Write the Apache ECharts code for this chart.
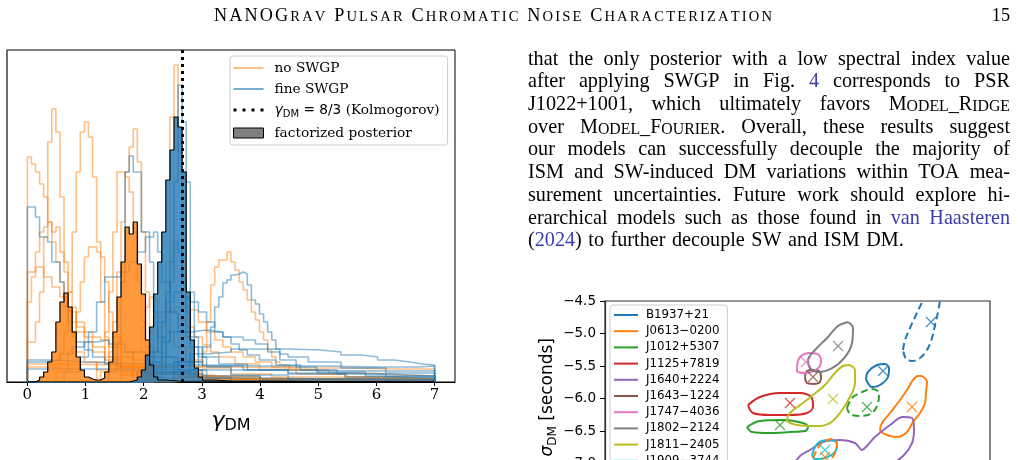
<!DOCTYPE html>
<html><head><meta charset="utf-8">
<script src="https://cdn.jsdelivr.net/npm/echarts@6/dist/echarts.min.js"></script>
<style>html,body{margin:0;padding:0;background:#fff}#c{width:1018px;height:460px}</style>
</head><body><div id="c"></div>
<script>
// ================= DATA =================
// Left panel: posterior histograms of gamma_DM (step outlines: [left bin edge, height])
const gammaTicks = [0, 1, 2, 3, 4, 5, 6, 7];
const KOLMOGOROV = 8 / 3;

// "no SWGP" posteriors (orange)
const noSWGP_1 = [[2.17,0.05],[2.24,0.15],[2.31,0.45],[2.38,1.2],[2.45,2.65],[2.52,3.17],[2.59,2.3],[2.66,1.05],[2.73,0.45],[2.80,0.18],[2.87,0.07],[2.94,0.03],[3.15,0.01]];
const noSWGP_2 = [[0,0.4],[0.14,0.6],[0.21,0.9],[0.28,1.45],[0.35,2.4],[0.42,2.73],[0.49,2.5],[0.56,1.85],[0.63,1.2],[0.70,0.72],[0.77,0.45],[0.84,0.3],[0.98,0.2],[1.19,0.12],[1.6,0.07],[2.2,0.04],[3.0,0.02],[4.0,0.01]];
const noSWGP_3 = [[0,0.15],[0.56,0.3],[0.63,0.5],[0.70,0.9],[0.77,1.5],[0.84,2.1],[0.91,2.5],[0.98,2.6],[1.05,2.45],[1.12,2.05],[1.19,1.4],[1.26,0.8],[1.33,0.45],[1.40,0.25],[1.54,0.15],[1.82,0.08],[2.5,0.04],[3.5,0.02]];
const noSWGP_4 = [[0,2.25],[0.07,2.18],[0.14,2.1],[0.21,1.98],[0.28,1.85],[0.35,1.6],[0.42,1.4],[0.49,1.2],[0.56,1.0],[0.63,0.85],[0.70,0.72],[0.77,0.6],[0.84,0.5],[0.98,0.4],[1.12,0.3],[1.33,0.22],[1.61,0.15],[2.03,0.1],[2.59,0.06],[3.5,0.03],[4.48,0.01]];
const noSWGP_5 = [[0,0.8],[0.07,1.05],[0.14,1.3],[0.21,1.5],[0.28,1.55],[0.35,1.6],[0.42,1.5],[0.49,1.55],[0.56,1.3],[0.63,1.1],[0.70,0.9],[0.77,0.75],[0.84,0.55],[0.98,0.45],[1.12,0.35],[1.33,0.25],[1.61,0.15],[2.03,0.1],[2.8,0.05],[4.0,0.02]];
const noSWGP_6 = [[0,1.1],[0.14,1.15],[0.28,1.05],[0.42,0.95],[0.56,0.85],[0.70,0.7],[0.84,0.6],[0.98,0.5],[1.12,0.45],[1.26,0.42],[1.40,0.35],[1.61,0.3],[1.82,0.22],[2.1,0.15],[2.52,0.1],[3.01,0.06],[4.0,0.03]];
const noSWGP_7 = [[1.26,0.1],[1.40,0.3],[1.47,0.6],[1.54,1.1],[1.61,1.6],[1.68,2.1],[1.75,2.35],[1.82,2.53],[1.89,2.2],[1.96,1.5],[2.03,0.9],[2.10,0.5],[2.17,0.3],[2.31,0.15],[2.59,0.07],[3.22,0.03]];
const noSWGP_8 = [[1.19,0.2],[1.33,0.5],[1.40,0.9],[1.47,1.5],[1.54,2.1],[1.61,2.1],[1.68,2.05],[1.75,1.9],[1.82,1.5],[1.89,1.0],[1.96,0.6],[2.03,0.35],[2.17,0.2],[2.38,0.1],[2.8,0.05],[3.5,0.02]];
const noSWGP_9 = [[0.49,0.1],[0.70,0.3],[0.84,0.7],[0.91,1.0],[0.98,1.25],[1.05,1.35],[1.12,1.35],[1.19,1.3],[1.26,1.25],[1.33,1.0],[1.40,0.7],[1.47,0.45],[1.61,0.25],[1.82,0.15],[2.24,0.08],[3.01,0.03]];
const noSWGP_10 = [[2.59,0.05],[2.87,0.15],[3.01,0.3],[3.08,0.6],[3.15,0.97],[3.22,1.15],[3.29,1.22],[3.36,1.22],[3.43,1.3],[3.50,1.2],[3.57,1.12],[3.64,1.0],[3.71,0.92],[3.78,0.82],[3.85,0.7],[3.92,0.62],[3.99,0.5],[4.06,0.42],[4.13,0.32],[4.20,0.25],[4.27,0.2],[4.34,0.17],[4.5,0.12],[5.0,0.08],[5.5,0.05],[6.2,0.03]];
const noSWGP_11 = [[1.82,0.1],[2.03,0.3],[2.10,0.5],[2.17,0.65],[2.31,0.7],[2.45,0.68],[2.59,0.62],[2.73,0.55],[2.87,0.45],[3.01,0.37],[3.15,0.3],[3.29,0.25],[3.57,0.18],[3.99,0.12],[4.62,0.08],[5.46,0.05],[6.3,0.03]];
const noSWGP_12 = [[0,0.18],[0.7,0.17],[1.47,0.16],[2.52,0.15],[3.5,0.14],[4.48,0.14],[5.46,0.13],[6.3,0.13]];
const noSWGP_13 = [[1.89,0.1],[2.1,0.3],[2.24,0.55],[2.38,0.7],[2.52,0.75],[2.66,0.75],[2.8,0.72],[2.94,0.6],[3.08,0.5],[3.22,0.42],[3.36,0.35],[3.5,0.3],[3.71,0.25],[3.92,0.2],[4.2,0.15],[4.62,0.12],[5.18,0.09],[5.95,0.07],[6.58,0.06]];
const noSWGP_14 = [[1.61,0.1],[1.82,0.3],[1.96,0.55],[2.03,0.75],[2.10,0.85],[2.17,0.82],[2.24,0.7],[2.38,0.5],[2.52,0.35],[2.73,0.22],[3.01,0.14],[3.5,0.08],[4.2,0.05],[5.2,0.03]];

// "fine SWGP" posteriors (blue)
const fineSWGP_1 = [[2.17,0.05],[2.31,0.15],[2.38,0.4],[2.45,1.0],[2.52,2.0],[2.59,2.97],[2.66,2.6],[2.73,2.0],[2.80,0.9],[2.87,0.35],[2.94,0.12],[3.08,0.04],[3.5,0.01]];
const fineSWGP_2 = [[1.40,0.1],[1.54,0.4],[1.61,1.0],[1.68,2.1],[1.75,2.26],[1.82,2.1],[1.89,2.1],[1.96,1.5],[2.03,1.5],[2.10,1.2],[2.17,0.7],[2.24,0.45],[2.38,0.25],[2.59,0.12],[3.01,0.06],[4.0,0.02]];
const fineSWGP_3 = [[0,1.75],[0.14,1.65],[0.21,1.45],[0.35,1.4],[0.42,1.2],[0.56,1.0],[0.63,0.75],[0.70,0.6],[0.77,0.5],[0.84,0.4],[0.98,0.32],[1.12,0.25],[1.33,0.18],[1.61,0.12],[2.03,0.08],[3.01,0.04],[4.0,0.02]];
const fineSWGP_4 = [[0.63,0.1],[0.91,0.25],[1.05,0.5],[1.19,0.8],[1.33,1.05],[1.54,1.05],[1.61,1.1],[1.75,1.2],[1.89,1.3],[2.03,1.45],[2.17,1.5],[2.24,1.3],[2.31,1.0],[2.45,0.7],[2.59,0.5],[2.8,0.35],[3.01,0.25],[3.29,0.18],[3.78,0.12],[4.48,0.08],[5.46,0.05],[6.51,0.04]];
const fineSWGP_5 = [[2.52,0.1],[2.8,0.2],[3.01,0.35],[3.15,0.55],[3.22,0.75],[3.29,0.85],[3.36,0.99],[3.43,1.02],[3.50,1.07],[3.57,1.08],[3.64,1.1],[3.71,1.08],[3.78,0.97],[3.85,0.82],[3.92,0.78],[3.99,0.68],[4.06,0.6],[4.13,0.5],[4.20,0.42],[4.27,0.33],[4.34,0.28],[4.48,0.25],[4.83,0.2],[5.39,0.14],[6.16,0.09]];
const fineSWGP_6 = [[2.17,0.1],[2.52,0.2],[2.8,0.28],[3.08,0.3],[3.5,0.33],[3.99,0.33],[4.48,0.32],[5.04,0.3],[5.39,0.27],[5.74,0.25],[6.02,0.22],[6.3,0.2],[6.58,0.18],[6.79,0.17]];
const fineSWGP_7 = [[0,0.22],[0.49,0.2],[0.98,0.18],[2.03,0.17],[3.01,0.16],[3.99,0.16],[5.04,0.15],[6.02,0.15],[6.72,0.16]];
const fineSWGP_8 = [[0,0.13],[0.98,0.13],[2.03,0.12],[3.01,0.12],[4.48,0.11],[6.02,0.11]];
const fineSWGP_9 = [[1.89,0.1],[2.1,0.3],[2.24,0.6],[2.38,0.8],[2.52,0.9],[2.66,0.85],[2.8,0.8],[2.94,0.7],[3.08,0.6],[3.22,0.5],[3.36,0.45],[3.5,0.38],[3.64,0.32],[3.78,0.27],[3.99,0.22],[4.27,0.17],[4.69,0.12],[5.32,0.08],[6.16,0.05]];
const fineSWGP_10 = [[2.1,0.2],[2.31,0.4],[2.45,0.5],[2.8,0.52],[3.08,0.5],[3.36,0.45],[3.71,0.42],[3.92,0.38],[4.13,0.3],[4.34,0.22],[4.62,0.15],[4.97,0.1],[5.81,0.06]];
const fineSWGP_11 = [[1.96,0.1],[2.17,0.3],[2.31,0.6],[2.38,0.9],[2.45,1.2],[2.52,1.4],[2.59,1.3],[2.66,1.0],[2.73,0.7],[2.8,0.45],[2.94,0.25],[3.08,0.15],[3.5,0.07],[4.48,0.03]];
const fineSWGP_12 = [[0,0.2],[0.28,0.22],[0.56,0.28],[0.77,0.35],[0.98,0.4],[1.19,0.42],[1.40,0.38],[1.68,0.3],[2.03,0.25],[2.52,0.2],[3.01,0.16],[3.71,0.12],[4.48,0.09],[5.46,0.07],[6.51,0.06]];

// factorized posteriors (filled)
const factorizedNoSWGP = [[0.14,0.02],[0.21,0.05],[0.28,0.1],[0.35,0.2],[0.42,0.3],[0.49,0.6],[0.56,0.8],[0.63,0.89],[0.70,0.75],[0.77,0.5],[0.84,0.25],[0.91,0.12],[0.98,0.05],[1.05,0.03],[1.12,0.02],[1.19,0.02],[1.26,0.04],[1.33,0.1],[1.40,0.2],[1.47,0.5],[1.54,0.85],[1.61,1.2],[1.68,1.55],[1.75,1.48],[1.82,1.6],[1.89,1.18],[1.96,0.88],[2.03,0.42],[2.10,0.17],[2.17,0.05],[2.24,0.02],[2.38,0.01],[2.6,0]];
const factorizedFineSWGP = [[1.75,0.01],[1.82,0.02],[1.89,0.05],[1.96,0.12],[2.03,0.27],[2.10,0.55],[2.17,0.88],[2.24,1.2],[2.31,1.5],[2.38,2.02],[2.45,2.32],[2.52,2.65],[2.59,2.55],[2.66,2.1],[2.73,0.9],[2.80,0.42],[2.87,0.14],[2.94,0.05],[3.01,0.02],[3.2,0.01],[3.5,0]];

const noSWGPCurves = [noSWGP_1,noSWGP_2,noSWGP_3,noSWGP_4,noSWGP_5,noSWGP_6,noSWGP_7,noSWGP_8,noSWGP_9,noSWGP_10,noSWGP_11,noSWGP_12,noSWGP_13,noSWGP_14];
const fineSWGPCurves = [fineSWGP_1,fineSWGP_2,fineSWGP_3,fineSWGP_4,fineSWGP_5,fineSWGP_6,fineSWGP_7,fineSWGP_8,fineSWGP_9,fineSWGP_10,fineSWGP_11,fineSWGP_12];

// Right-bottom panel: credible contours (x: log10 scale param, y: log10 sigma_DM [s])
const sigmaTicks = [-4.5, -5.0, -5.5, -6.0, -6.5, -7.0, -7.5];
const pulsarNames = ['B1937+21','J0613\u22120200','J1012+5307','J1125+7819','J1640+2224','J1643\u22121224','J1747\u22124036','J1802\u22122124','J1811\u22122405','J1909\u22123744'];
const cB1937 = [[3.21,-5.70],[3.23,-5.592],[3.32,-5.485],[3.40,-5.469],[3.44,-5.531],[3.43,-5.669],[3.35,-5.792],[3.27,-5.823],[3.21,-5.70]];
const cJ0613 = [[3.77,-5.654],[3.82,-5.746],[3.81,-5.90],[3.80,-6.069],[3.75,-6.223],[3.68,-6.362],[3.62,-6.515],[3.52,-6.592],[3.42,-6.562],[3.35,-6.485],[3.37,-6.377],[3.45,-6.223],[3.55,-6.023],[3.62,-5.869],[3.68,-5.715],[3.73,-5.654],[3.77,-5.654]];
const cJ1012 = [[2.02,-6.438],[2.15,-6.346],[2.38,-6.331],[2.58,-6.377],[2.63,-6.438],[2.60,-6.50],[2.45,-6.515],[2.25,-6.531],[2.07,-6.515],[2.02,-6.438]];
const cJ1125 = [[2.03,-6.10],[2.15,-5.977],[2.35,-5.915],[2.55,-5.915],[2.67,-5.992],[2.68,-6.131],[2.62,-6.223],[2.45,-6.254],[2.25,-6.254],[2.08,-6.223],[2.03,-6.10]];
const cJ1640 = [[2.45,-7.10],[2.55,-6.885],[2.65,-6.792],[2.78,-6.669],[2.95,-6.638],[3.10,-6.685],[3.17,-6.792],[3.21,-6.746],[3.30,-6.592],[3.45,-6.408],[3.58,-6.285],[3.67,-6.30],[3.69,-6.485],[3.67,-6.685],[3.59,-6.869],[3.48,-6.992],[3.25,-7.10],[2.95,-7.192],[2.65,-7.223],[2.45,-7.10]];
const cJ1643 = [[2.60,-5.669],[2.62,-5.577],[2.68,-5.562],[2.74,-5.577],[2.76,-5.669],[2.74,-5.762],[2.68,-5.777],[2.62,-5.762],[2.60,-5.669]];
const cJ1747 = [[2.52,-5.515],[2.55,-5.362],[2.65,-5.30],[2.74,-5.331],[2.76,-5.438],[2.72,-5.546],[2.60,-5.608],[2.52,-5.577],[2.52,-5.515]];
const cJ1802 = [[3.03,-4.823],[3.08,-4.915],[3.07,-5.146],[3.00,-5.362],[2.87,-5.531],[2.73,-5.592],[2.65,-5.531],[2.63,-5.408],[2.70,-5.254],[2.82,-5.069],[2.93,-4.885],[3.03,-4.823]];
const cJ1811 = [[3.05,-5.485],[3.10,-5.562],[3.10,-5.762],[3.05,-5.977],[2.95,-6.223],[2.85,-6.377],[2.72,-6.423],[2.52,-6.408],[2.42,-6.331],[2.45,-6.223],[2.58,-6.069],[2.68,-5.946],[2.80,-5.792],[2.90,-5.608],[2.98,-5.50],[3.05,-5.485]];
const cJ1909 = [[2.67,-6.869],[2.73,-6.685],[2.85,-6.638],[2.92,-6.685],[2.90,-6.823],[2.80,-6.915],[2.70,-6.931],[2.67,-6.869]];
const cDashBlue = [[3.58,-5.254],[3.60,-5.10],[3.65,-4.915],[3.71,-4.715],[3.77,-4.515],[3.82,-4.331],[3.90,-4.208],[3.96,-4.30],[3.95,-4.485],[3.93,-4.669],[3.90,-4.869],[3.87,-5.069],[3.82,-5.254],[3.75,-5.377],[3.67,-5.423],[3.61,-5.392],[3.58,-5.254]];
const cDashOrange = [[2.68,-6.915],[2.73,-6.762],[2.78,-6.669],[2.87,-6.623],[2.92,-6.715],[2.90,-6.838],[2.83,-6.977],[2.73,-7.038],[2.68,-6.915]];
const cDashGreen = [[3.02,-6.146],[3.07,-5.992],[3.15,-5.915],[3.27,-5.854],[3.34,-5.915],[3.33,-6.069],[3.27,-6.223],[3.15,-6.269],[3.05,-6.238],[3.02,-6.146]];
// posterior medians (x markers)
const medianX = [3.38, 3.67, 2.35, 2.45, 3.15, 2.68, 2.61, 2.93, 2.88, 2.80, 3.86, 2.80, 3.22];
const medianY = [-5.577, -6.131, -6.408, -6.069, -7.05, -5.669, -5.438, -5.192, -6.008, -6.792, -4.823, -6.90, -6.131];

// ================= CHART =================
const ORANGE = '#ff7f0e', BLUE = '#1f77b4';
const TAB10 = ['#1f77b4','#ff7f0e','#2ca02c','#d62728','#9467bd','#8c564b','#e377c2','#7f7f7f','#bcbd22','#17becf'];
const KOLMO_NAME = 'gammaDM = 8/3 (Kolmogorov)';
const SERIF_MPL = '"DejaVu Serif", serif';
const SANS = '"DejaVu Sans", sans-serif';

function stepData(pairs) {
  const d = [[0, 0]];
  pairs.forEach(p => d.push([p[0], p[1]]));
  d.push([7, pairs[pairs.length - 1][1]]);
  d.push([7, 0]);
  return d;
}

const series = [];
noSWGPCurves.forEach(c => series.push({
  type: 'line', name: 'no SWGP', xAxisIndex: 0, yAxisIndex: 0, data: stepData(c), step: 'end',
  symbol: 'none', silent: true, z: 2, lineStyle: { color: ORANGE, width: 1.6, opacity: 0.5 }, itemStyle: { color: ORANGE }
}));
fineSWGPCurves.forEach(c => series.push({
  type: 'line', name: 'fine SWGP', xAxisIndex: 0, yAxisIndex: 0, data: stepData(c), step: 'end',
  symbol: 'none', silent: true, z: 2, lineStyle: { color: BLUE, width: 1.6, opacity: 0.5 }, itemStyle: { color: BLUE }
}));
[[factorizedNoSWGP, ORANGE], [factorizedFineSWGP, BLUE]].forEach(([c, col]) => series.push({
  type: 'line', name: 'factorized posterior', xAxisIndex: 0, yAxisIndex: 0, data: stepData(c), step: 'end',
  symbol: 'none', silent: true, z: 3, lineStyle: { color: '#000', width: 1.2 },
  areaStyle: { color: col, opacity: 0.8 }, itemStyle: { color: '#808080' }
}));
series.push({
  type: 'line', name: KOLMO_NAME, xAxisIndex: 0, yAxisIndex: 0, data: [], symbol: 'none', z: 5,
  lineStyle: { color: '#000', width: 3, type: [3, 4] }, itemStyle: { color: '#000' },
  markLine: { silent: true, symbol: ['none', 'none'], label: { show: false },
    lineStyle: { color: '#000', width: 3, type: [3, 4], cap: 'butt' }, data: [{ xAxis: KOLMOGOROV }] }
});

// contour panel
const contours = [cB1937, cJ0613, cJ1012, cJ1125, cJ1640, cJ1643, cJ1747, cJ1802, cJ1811, cJ1909];
contours.forEach((c, i) => series.push({
  type: 'line', name: pulsarNames[i], xAxisIndex: 1, yAxisIndex: 1, data: c, symbol: 'none', smooth: 0.35,
  silent: true, z: 2, lineStyle: { color: TAB10[i], width: 2 }, itemStyle: { color: TAB10[i] }
}));
[[cDashBlue, TAB10[0], 'pulsar 11'], [cDashOrange, TAB10[1], 'pulsar 12'], [cDashGreen, TAB10[2], 'pulsar 13']].forEach(([c, col, nm]) => series.push({
  type: 'line', name: nm, xAxisIndex: 1, yAxisIndex: 1, data: c, symbol: 'none', smooth: 0.35,
  silent: true, z: 2, lineStyle: { color: col, width: 2, type: [7, 4] }, itemStyle: { color: col }
}));
const markerColors = TAB10.concat([TAB10[0], TAB10[1], TAB10[2]]);
series.push({
  type: 'scatter', name: 'medians', xAxisIndex: 1, yAxisIndex: 1, silent: true, z: 3,
  symbol: 'path://M0,0L10,10M10,0L0,10', symbolSize: 10,
  data: medianX.map((x, i) => ({ value: [x, medianY[i]], itemStyle: { color: 'none', borderColor: markerColors[i], borderWidth: 1.3 } }))
});

// ---------- page text (graphic) ----------
const cv = document.createElement('canvas');
const ctx = cv.getContext('2d');
const TEXTFAM = '"Liberation Serif", serif';
const BODY = 20.2, SCS = 15.8;
function tw(t, size) { ctx.font = size + 'px ' + TEXTFAM; return ctx.measureText(t).width; }
const LINK = '#3c3caa';
const RICH = {
  n: { fontFamily: TEXTFAM, fontSize: BODY, fill: '#000', verticalAlign: 'bottom', lineHeight: 24 },
  l: { fontFamily: TEXTFAM, fontSize: BODY, fill: LINK, verticalAlign: 'bottom', lineHeight: 24 },
  b: { fontFamily: TEXTFAM, fontSize: BODY, fill: '#000', verticalAlign: 'bottom', lineHeight: 24 },
  s: { fontFamily: TEXTFAM, fontSize: SCS, fill: '#000', verticalAlign: 'bottom', lineHeight: 24 }
};
const paraLines = [
  'that the only posterior with a low spectral index value',
  'after applying SWGP in Fig. [[4]] corresponds to PSR',
  'J1022+1001, which ultimately favors {{Model_Ridge}}',
  'over {{Model_Fourier}}. Overall, these results suggest',
  'our models can successfully decouple the majority of',
  'ISM and SW-induced DM variations within TOA mea-',
  'surement uncertainties. Future work should explore hi-',
  'erarchical models such as those found in [[van]] [[Haasteren]]',
  '([[2024]]) to further decouple SW and ISM DM.'
];
function parseWord(w) {
  const segs = [];
  const re = /\[\[(.*?)\]\]|\{\{(.*?)\}\}/g;
  let last = 0, m;
  while ((m = re.exec(w))) {
    if (m.index > last) segs.push({ t: w.slice(last, m.index), st: 'n' });
    if (m[1] !== undefined) segs.push({ t: m[1], st: 'l' });
    else {
      let cur = null;
      for (const ch of m[2]) {
        const st = (ch === ch.toUpperCase()) ? 'b' : 's';
        const t = ch.toUpperCase();
        if (cur && cur.st === st) cur.t += t; else { cur = { t, st }; segs.push(cur); }
      }
    }
    last = re.lastIndex;
  }
  if (last < w.length) segs.push({ t: w.slice(last), st: 'n' });
  return segs;
}
function segWidth(segs) { return segs.reduce((a, s) => a + tw(s.t, s.st === 's' ? SCS : BODY), 0); }
function segRich(segs) { return segs.map(s => '{' + s.st + '|' + s.t + '}').join(''); }

const graphics = [];
const PX0 = 528, PX1 = 1010, BASE0 = 65, LEAD = 22.7;
paraLines.forEach((line, li) => {
  const words = line.split(' ').map(parseWord);
  const widths = words.map(segWidth);
  const total = widths.reduce((a, b) => a + b, 0);
  const lastLine = li === paraLines.length - 1;
  const gap = lastLine ? 6.5 : (PX1 - PX0 - total) / (words.length - 1);
  let x = PX0;
  const yb = BASE0 + li * LEAD + 4.3;
  words.forEach((w, wi) => {
    graphics.push({ type: 'text', x: x, y: yb, silent: true,
      style: { text: segRich(w), rich: RICH, align: 'left', verticalAlign: 'bottom' } });
    x += widths[wi] + gap;
  });
});

// running header: small caps, letter-spaced to the page's header width
const HB = 18.2, HS = 14.6;
const headerSegs = [['NANOG','b'],['RAV','s'],[' ','b'],['P','b'],['ULSAR','s'],[' ','b'],['C','b'],['HROMATIC','s'],[' ','b'],['N','b'],['OISE','s'],[' ','b'],['C','b'],['HARACTERIZATION','s']];
const HX0 = 214, HX1 = 772, HY = 25;
const hChars = [];
headerSegs.forEach(([t, st]) => { for (const ch of t) hChars.push([ch, st]); });
const hWidths = hChars.map(([ch, st]) => tw(ch, st === 's' ? HS : HB));
const hTotal = hWidths.reduce((a, b) => a + b, 0);
const hTrack = (HX1 - HX0 - hTotal) / (hChars.length - 1);
let hx = HX0;
hChars.forEach(([ch, st], i) => {
  if (ch !== ' ') graphics.push({ type: 'text', x: hx, y: HY, silent: true,
    style: { text: ch, fontFamily: TEXTFAM, fontSize: st === 's' ? HS : HB, fill: '#000', align: 'left', verticalAlign: 'bottom' } });
  hx += hWidths[i] + hTrack;
});
graphics.push({ type: 'text', x: 1010, y: HY, silent: true,
  style: { text: '15', fontFamily: TEXTFAM, fontSize: HB, fill: '#000', align: 'right', verticalAlign: 'bottom' } });

// rotated y-axis title of the contour panel (bottom part is cut off by the page)
graphics.push({ type: 'text', x: 548, y: 338, rotation: Math.PI / 2, silent: true,
  style: { text: '{n|log}{sub|10}{n| }{g|\u03c3}{sub|DM}{n| [seconds]}', align: 'right', verticalAlign: 'middle',
    rich: {
      n: { fontFamily: SANS, fontSize: 17, fill: '#000', verticalAlign: 'middle', lineHeight: 22 },
      g: { fontFamily: SANS, fontStyle: 'italic', fontSize: 17, fill: '#000', verticalAlign: 'middle', lineHeight: 22 },
      sub: { fontFamily: SANS, fontSize: 12, fill: '#000', verticalAlign: 'bottom', lineHeight: 22 }
    } } });

const lineIcon = (w, h) => 'path://M0,0H' + w + 'V' + h + 'H0Z';

const option = {
  animation: false,
  backgroundColor: '#fff',
  grid: [
    { left: 7, top: 50, width: 448, height: 332, show: true, borderColor: '#000', borderWidth: 1, backgroundColor: 'transparent', outerBoundsMode: 'none', containLabel: false },
    { left: 605, top: 301, width: 385, height: 195, show: true, borderColor: '#333', borderWidth: 1.2, backgroundColor: 'transparent', outerBoundsMode: 'none', containLabel: false }
  ],
  xAxis: [
    { type: 'value', gridIndex: 0, min: -0.35, max: 7.35,
      axisLine: { show: true, onZero: false, lineStyle: { color: '#000', width: 1 } },
      axisTick: { show: true, customValues: gammaTicks, length: 4, lineStyle: { color: '#000' } },
      axisLabel: { customValues: gammaTicks, fontFamily: SERIF_MPL, fontSize: 15, color: '#000', margin: 6 },
      splitLine: { show: false },
      name: '{g|\u03b3}{s|DM}', nameLocation: 'middle', nameGap: 26,
      nameTextStyle: { rich: {
        g: { fontFamily: SANS, fontStyle: 'italic', fontSize: 22, color: '#000', verticalAlign: 'middle', lineHeight: 26 },
        s: { fontFamily: SANS, fontSize: 16, color: '#000', verticalAlign: 'bottom', lineHeight: 26 } } } },
    { type: 'value', gridIndex: 1, min: 0.6, max: 4.45,
      axisLine: { show: true, onZero: false, lineStyle: { color: '#333' } },
      axisTick: { show: false }, axisLabel: { show: false }, splitLine: { show: false } }
  ],
  yAxis: [
    { type: 'value', gridIndex: 0, min: 0, max: 3.32,
      axisLine: { show: true, onZero: false, lineStyle: { color: '#666', width: 1.5 } },
      axisTick: { show: false }, axisLabel: { show: false }, splitLine: { show: false } },
    { type: 'value', gridIndex: 1, min: -7.5, max: -4.5,
      axisLine: { show: true, onZero: false, lineStyle: { color: '#333', width: 1.2 } },
      axisTick: { show: true, customValues: sigmaTicks, length: 5, lineStyle: { color: '#000' } },
      axisLabel: { customValues: sigmaTicks, fontFamily: SANS, fontSize: 13.5, color: '#000', margin: 9,
        formatter: v => v.toFixed(1).replace('-', '\u2212') },
      splitLine: { show: false } }
  ],
  legend: [
    { left: 230, top: 56, orient: 'vertical', itemWidth: 30, itemHeight: 14, itemGap: 7,
      padding: [5, 8, 5, 3], borderColor: '#cccccc', borderWidth: 1, borderRadius: 3,
      backgroundColor: 'rgba(255,255,255,0.85)', selectedMode: false,
      textStyle: { fontFamily: SERIF_MPL, fontSize: 13.7, color: '#000', padding: [0, 0, 0, 6],
        rich: {
          g: { fontFamily: SANS, fontStyle: 'italic', fontSize: 14, color: '#000', verticalAlign: 'middle', lineHeight: 18 },
          s: { fontFamily: SANS, fontSize: 10, color: '#000', verticalAlign: 'bottom', lineHeight: 18 },
          m: { fontFamily: SANS, fontSize: 13.7, color: '#000', verticalAlign: 'middle', lineHeight: 18 },
          t: { fontFamily: SERIF_MPL, fontSize: 13.7, color: '#000', verticalAlign: 'middle', lineHeight: 18 } } },
      formatter: name => name === KOLMO_NAME ? '{g|\u03b3}{s|DM}{m| = 8/3 }{t|(Kolmogorov)}' : name,
      data: [
        { name: 'no SWGP', icon: lineIcon(30, 1.6), itemStyle: { color: ORANGE, opacity: 0.6, borderWidth: 0 } },
        { name: 'fine SWGP', icon: lineIcon(30, 1.6), itemStyle: { color: BLUE, opacity: 0.75, borderWidth: 0 } },
        { name: KOLMO_NAME, icon: 'path://M0,0h3v3h-3z M9,0h3v3h-3z M18,0h3v3h-3z M27,0h3v3h-3z', itemStyle: { color: '#000', borderWidth: 0 } },
        { name: 'factorized posterior', icon: 'path://M0,0H30V10H0Z', itemStyle: { color: '#808080', borderColor: '#000', borderWidth: 1 } }
      ] },
    { left: 610, top: 305, height: 400, orient: 'vertical', itemWidth: 24, itemHeight: 12, itemGap: 4.2,
      padding: [4, 8, 4, 4], borderColor: '#cccccc', borderWidth: 1, borderRadius: 3,
      backgroundColor: '#fff', selectedMode: false,
      textStyle: { fontFamily: SANS, fontSize: 11.8, lineHeight: 12, color: '#000', padding: [0, 0, 0, 3] },
      data: pulsarNames.map((n, i) => ({ name: n, icon: lineIcon(24, 2), itemStyle: { color: TAB10[i], borderWidth: 0 } })) }
  ],
  graphic: { elements: graphics },
  series: series
};
const chart = echarts.init(document.getElementById('c'));
chart.setOption(option);
</script>
</body></html>
